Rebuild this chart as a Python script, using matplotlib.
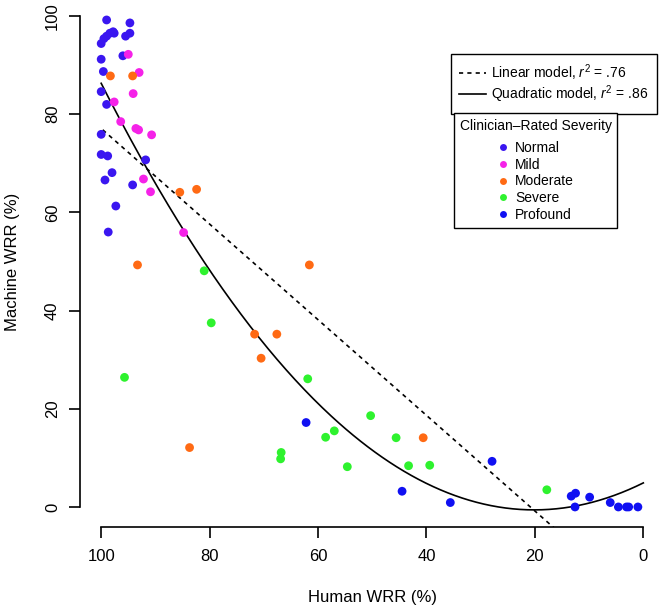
import numpy as np
import matplotlib
matplotlib.use("Agg")
import matplotlib.pyplot as plt
from matplotlib.lines import Line2D

plt.rcParams['font.family'] = ['Liberation Sans', 'DejaVu Sans']
plt.rcParams['mathtext.fontset'] = 'custom'
plt.rcParams['mathtext.rm'] = 'Liberation Sans'
plt.rcParams['mathtext.it'] = 'Liberation Sans:italic'

# data (Human WRR %, Machine WRR %)
normal_x = [99.0, 94.7, 100.0, 99.5, 99.0, 98.4, 97.8, 97.6, 95.5, 94.7, 96.0, 100.0,
            99.6, 100.0, 99.0, 100.0, 100.0, 98.8, 91.8, 98.0, 99.3, 94.2, 97.3, 98.7]
normal_y = [99.2, 98.6, 94.4, 95.4, 95.9, 96.5, 96.8, 96.5, 95.9, 96.5, 91.9, 91.2,
            88.7, 84.6, 82.0, 75.9, 71.8, 71.5, 70.7, 68.1, 66.6, 65.6, 61.3, 56.0]
mild_x = [95.0, 93.0, 94.1, 97.6, 96.4, 93.6, 93.1, 90.7, 92.2, 90.9, 84.8]
mild_y = [92.2, 88.5, 84.2, 82.5, 78.5, 77.1, 76.8, 75.8, 66.8, 64.2, 55.9]
moderate_x = [98.3, 94.2, 85.5, 82.4, 93.3, 71.7, 67.6, 70.5, 61.6, 83.7, 40.6]
moderate_y = [87.8, 87.8, 64.1, 64.7, 49.3, 35.2, 35.2, 30.3, 49.3, 12.1, 14.1]
severe_x = [81.0, 79.7, 95.7, 61.9, 66.8, 66.9, 50.3, 57.0, 58.6, 45.6, 54.6, 43.3, 39.4, 17.8]
severe_y = [48.1, 37.5, 26.4, 26.1, 11.1, 9.8, 18.6, 15.5, 14.2, 14.1, 8.2, 8.4, 8.5, 3.5]
profound_x = [62.2, 44.5, 35.6, 27.9, 13.3, 12.5, 12.6, 9.9, 6.1, 4.6, 3.1, 2.7, 1.0]
profound_y = [17.2, 3.2, 0.9, 9.3, 2.2, 2.8, 0.0, 2.0, 0.9, 0.0, 0.0, 0.0, 0.0]

severity = ['Normal', 'Mild', 'Moderate', 'Severe', 'Profound']
colors = ['#3A16F0', '#F522E8', '#FF6A14', '#2EF22E', '#1010F2']

# model fits (coefficients, highest power first)
linear_coef = [0.974, -20.3]
quad_coef = [0.01361, -0.547, 4.90]
linear_r2 = '.76'
quad_r2 = '.86'

DASH = (0, (2.5, 2.5))

fig = plt.figure(figsize=(6.64, 6.09), dpi=100)
ax = fig.add_axes([79.5 / 664, 82.4 / 609, 585.5 / 664, 530.2 / 609])

groups = [(normal_x, normal_y), (mild_x, mild_y), (moderate_x, moderate_y),
          (severe_x, severe_y), (profound_x, profound_y)]
for (gx, gy), c in zip(groups, colors):
    ax.scatter(gx, gy, s=40, color=c, edgecolors='none', zorder=3)

xs = np.linspace(0, 100, 300)
ax.plot(xs, np.polyval(linear_coef, xs), color='black', ls=DASH, lw=1.2, zorder=2)
ax.plot(xs, np.polyval(quad_coef, xs), color='black', lw=1.2, zorder=2)

ax.set_xlim(104, -4)
ax.set_ylim(-4, 104)
ax.set_xticks([100, 80, 60, 40, 20, 0])
ax.set_yticks([0, 20, 40, 60, 80, 100])
ax.spines['top'].set_visible(False)
ax.spines['right'].set_visible(False)
ax.spines['left'].set_bounds(0, 100)
ax.spines['bottom'].set_bounds(100, 0)
for s in ['left', 'bottom']:
    ax.spines[s].set_linewidth(1.2)
ax.tick_params(length=8, width=1.2, labelsize=12, pad=8)
ax.tick_params(axis='y', pad=6)
for lab in ax.get_yticklabels():
    lab.set_rotation(90)
    lab.set_va('center')
ax.set_xlabel('Human WRR (%)', fontsize=12, labelpad=19)
ax.set_ylabel('Machine WRR (%)', fontsize=12, labelpad=18)

# model legend
model_handles = [Line2D([], [], color='black', ls=DASH, lw=1.2),
                 Line2D([], [], color='black', lw=1.2)]
model_labels = ['Linear model, $r^2$ = ' + linear_r2,
                'Quadratic model, $r^2$ = ' + quad_r2]
leg1 = fig.legend(model_handles, model_labels, loc='upper right',
                  bbox_to_anchor=(657 / 664, 1 - 54 / 609), fontsize=10,
                  frameon=True, fancybox=False, edgecolor='black', framealpha=1,
                  handlelength=1.9, handletextpad=0.4, labelspacing=0.05,
                  borderpad=0.6, borderaxespad=0)
leg1.get_frame().set_linewidth(1.0)

# severity legend
sev_handles = [Line2D([], [], ls='none', marker='o', markersize=5,
                      markerfacecolor=c, markeredgecolor='none') for c in colors]
leg2 = fig.legend(sev_handles, severity, loc='upper left',
                  bbox_to_anchor=(454 / 664, 1 - 113 / 609), fontsize=10,
                  title='Clinician\u2013Rated Severity', title_fontsize=10,
                  frameon=True, fancybox=False, edgecolor='black', framealpha=1,
                  handlelength=0.8, handletextpad=0.5, labelspacing=0.2,
                  borderpad=0.4, borderaxespad=0)
leg2.get_frame().set_linewidth(1.0)
leg2._legend_box.sep = 6

fig.savefig('out.png', dpi=100)
